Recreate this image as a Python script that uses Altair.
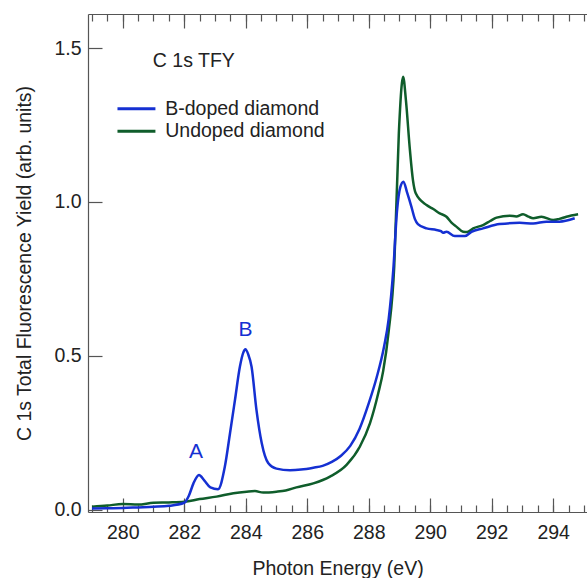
import altair as alt
import pandas as pd

# ---- data ----
b_energy = [279.0, 279.5, 280.0, 280.5, 281.0, 281.5, 282.0, 282.15, 282.3, 282.48,
            282.65, 282.85, 283.1, 283.32, 283.49, 283.65, 283.81, 283.92, 283.99, 284.08,
            284.19, 284.35, 284.52, 284.73, 285.0, 285.44, 285.8, 286.2, 286.5, 286.8,
            287.1, 287.4, 287.7, 288.0, 288.26, 288.5, 288.65, 288.8, 288.92, 289.03,
            289.13, 289.25, 289.39, 289.5, 289.6, 289.88, 290.2, 290.35, 290.42, 290.53,
            290.8, 291.13, 291.34, 291.72, 292.26, 292.91, 293.35, 293.78, 294.2, 294.7]
b_tfy = [0.003, 0.004, 0.005, 0.007, 0.009, 0.012, 0.022, 0.045, 0.085, 0.112,
         0.095, 0.072, 0.066, 0.139, 0.249, 0.356, 0.464, 0.51, 0.521, 0.505,
         0.464, 0.323, 0.216, 0.151, 0.133, 0.128, 0.130, 0.136, 0.142, 0.155,
         0.175, 0.207, 0.262, 0.345, 0.43, 0.53, 0.62, 0.78, 0.97, 1.049,
         1.066, 1.03, 0.984, 0.945, 0.928, 0.914, 0.909, 0.905, 0.900, 0.903,
         0.889, 0.889, 0.903, 0.914, 0.928, 0.932, 0.930, 0.936, 0.936, 0.947]

u_energy = [279.0, 279.5, 280.0, 280.5, 281.0, 281.5, 282.0, 282.5, 283.05, 283.6,
            284.03, 284.3, 284.57, 285.0, 285.3, 285.65, 286.2, 286.74, 287.28, 287.71,
            288.04, 288.31, 288.47, 288.65, 288.83, 288.98, 289.08, 289.12, 289.21, 289.34,
            289.44, 289.53, 289.88, 290.1, 290.31, 290.53, 290.7, 290.86, 291.07, 291.2,
            291.4, 291.72, 291.95, 292.16, 292.59, 292.8, 293.02, 293.2, 293.35, 293.62,
            294.0, 294.2, 294.43, 294.81]
u_tfy = [0.009, 0.013, 0.018, 0.016, 0.022, 0.023, 0.025, 0.034, 0.042, 0.053,
         0.058, 0.060, 0.055, 0.058, 0.062, 0.072, 0.085, 0.107, 0.145, 0.204,
         0.280, 0.378, 0.45, 0.58, 0.79, 1.223, 1.386, 1.407, 1.331, 1.169,
         1.07, 1.028, 0.990, 0.977, 0.963, 0.952, 0.932, 0.919, 0.903, 0.902,
         0.914, 0.925, 0.938, 0.949, 0.955, 0.953, 0.960, 0.952, 0.947, 0.952,
         0.941, 0.945, 0.952, 0.960]

series_names = ["B-doped diamond", "Undoped diamond"]
series_colors = ["#1530d2", "#0f5d2b"]

x_domain = [278.87, 295.1]
y_domain = [-0.008, 1.611]
x_major = [280, 282, 284, 286, 288, 290, 292, 294]
x_minor = [279, 279.5, 280, 280.5, 281, 281.5, 282, 282.5, 283, 283.5, 284, 284.5,
           285, 285.5, 286, 286.5, 287, 287.5, 288, 288.5, 289, 289.5, 290, 290.5,
           291, 291.5, 292, 292.5, 293, 293.5, 294, 294.5, 295]
y_major = [0.0, 0.5, 1.0, 1.5]

ann_labels = ["A", "B"]
ann_x = [282.38, 283.99]
ann_y = [0.168, 0.565]

note_text = ["C 1s TFY"]
note_x = [280.98]
note_y = [1.439]

# ---- tables ----
rows = []
for e, v in zip(u_energy, u_tfy):
    rows.append({"energy": e, "tfy": v, "series": series_names[1]})
for e, v in zip(b_energy, b_tfy):
    rows.append({"energy": e, "tfy": v, "series": series_names[0]})
df = pd.DataFrame(rows)
ann_df = pd.DataFrame({"label": ann_labels, "energy": ann_x, "tfy": ann_y})
note_df = pd.DataFrame({"label": note_text, "energy": note_x, "tfy": note_y})

W, H = 499, 498
FONT = "Liberation Sans"
FS = 19.5
AX = "#555555"
TXT = "#222222"

xs = alt.Scale(domain=x_domain, nice=False, zero=False)
ys = alt.Scale(domain=y_domain, nice=False, zero=False)

base = alt.Chart(df)

lines = base.mark_line(strokeWidth=2.5, interpolate="monotone").encode(
    x=alt.X("energy:Q", scale=xs, axis=alt.Axis(
        orient="bottom", values=x_major, format="d", ticks=False, grid=False,
        domain=True, domainColor=AX, domainWidth=1.2,
        labelFont=FONT, labelFontSize=FS, labelColor=TXT, labelPadding=11,
        title="Photon Energy (eV)", titleFont=FONT, titleFontSize=FS,
        titleFontWeight="normal", titleColor=TXT,
        titleX=W / 2, titleY=62, titleBaseline="alphabetic", titleAlign="center")),
    y=alt.Y("tfy:Q", scale=ys, axis=alt.Axis(
        orient="left", values=y_major, format=".1f", ticks=False, grid=False,
        domain=True, domainColor=AX, domainWidth=1.2,
        labelFont=FONT, labelFontSize=FS, labelColor=TXT, labelPadding=7,
        title="C 1s Total Fluorescence Yield (arb. units)", titleFont=FONT,
        titleFontSize=FS, titleFontWeight="normal", titleColor=TXT,
        titleX=-58, titleY=H / 2, titleBaseline="alphabetic", titleAlign="center")),
    color=alt.Color("series:N", scale=alt.Scale(domain=series_names, range=series_colors),
                    legend=alt.Legend(orient="none", legendX=38.7, legendY=85, title=None,
                                      symbolType="M-3,0H3", symbolSize=160,
                                      symbolStrokeWidth=3, labelFont=FONT,
                                      labelFontSize=FS, labelColor=TXT,
                                      labelOffset=19, rowPadding=1.5, padding=0)),
)

def tick_layer(xaxis, yaxis):
    return base.mark_line(strokeOpacity=0).encode(
        x=alt.X("energy:Q", scale=xs, axis=xaxis),
        y=alt.Y("tfy:Q", scale=ys, axis=yaxis),
        detail="series:N",
    )

common = dict(labels=False, domain=False, grid=False, title=None,
              tickColor=AX, tickWidth=1.2)

# inward ticks on bottom edge (major) and left edge
t1 = tick_layer(
    alt.Axis(orient="top", offset=-H, values=x_major, tickSize=14, **common),
    alt.Axis(orient="right", offset=-W, values=y_major, tickSize=14, **common),
)
# inward minor ticks on bottom edge
t2 = tick_layer(
    alt.Axis(orient="top", offset=-H, values=x_minor, tickSize=7, **common),
    None,
)
# top edge: line plus inward major ticks
t3 = tick_layer(
    alt.Axis(orient="bottom", offset=-H, values=x_major, tickSize=14,
             labels=False, domain=True, domainColor=AX, domainWidth=1.2,
             grid=False, title=None, tickColor=AX, tickWidth=1.2),
    None,
)
# top edge inward minor ticks
t4 = tick_layer(
    alt.Axis(orient="bottom", offset=-H, values=x_minor, tickSize=7, **common),
    None,
)

ann = alt.Chart(ann_df).mark_text(font=FONT, fontSize=21, color=series_colors[0],
                                  align="center", baseline="alphabetic").encode(
    x=alt.X("energy:Q", scale=xs, axis=None),
    y=alt.Y("tfy:Q", scale=ys, axis=None),
    text="label:N",
)
note = alt.Chart(note_df).mark_text(font=FONT, fontSize=FS, color=TXT,
                                    align="left", baseline="alphabetic").encode(
    x=alt.X("energy:Q", scale=xs, axis=None),
    y=alt.Y("tfy:Q", scale=ys, axis=None),
    text="label:N",
)

chart = alt.layer(lines, t1, t2, t3, t4, ann, note).resolve_axis(
    x="independent", y="independent"
).properties(
    width=W, height=H,
    autosize=alt.AutoSizeParams(type="none"),
    padding={"left": 88, "top": 14, "right": 0, "bottom": 66},
    background="white",
).configure_view(stroke=None)

chart.save("out.html", embed_options={"renderer": "svg", "actions": False})
